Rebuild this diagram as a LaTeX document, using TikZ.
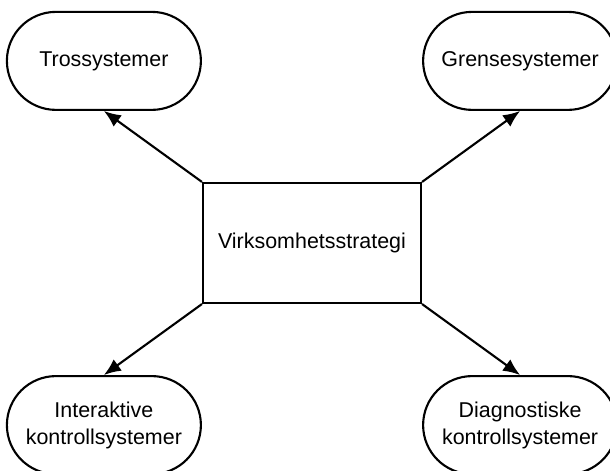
\documentclass[tikz,border=0pt]{standalone}
\usepackage{fontspec}
\setmainfont{Liberation Sans}
\usepackage{tikz}
\usetikzlibrary{positioning}
\usetikzlibrary{arrows.meta}

\begin{document}
\begin{tikzpicture}
		[system/.style={draw=black, line width=1.2pt, rounded corners=0.98cm, minimum width=3.88cm, minimum height=1.96cm, align=center},
		strategy/.style={draw=black, line width=1.2pt, minimum width=4.36cm, minimum height=2.4cm},
		every node/.style={font=\fontsize{12.2}{15.3}\selectfont},
		>={Latex[length=3.4mm, width=2.8mm]}]
		\useasboundingbox (0,0) rectangle (12.2,9.42);
		\node[strategy] (v) at (6.24,4.56) {Virksomhetsstrategi};
		\node[system, above left=1.42cm and 0cm of v] (t) {Trossystemer};
		\node[system, above right=1.42cm and 0cm of v] (g) {Grensesystemer};
		\node[system, below left=1.42cm and 0cm of v] (i) {Interaktive\\kontrollsystemer};
		\node[system, below right=1.42cm and 0cm of v] (d) {Diagnostiske\\kontrollsystemer};

		\draw[->, line width=1.2pt] (v.north west) -- (t.south);
		\draw[->, line width=1.2pt] (v.north east) -- (g.south);
		\draw[->, line width=1.2pt] (v.south west) -- (i.north);
		\draw[->, line width=1.2pt] (v.south east) -- (d.north);
	\end{tikzpicture}
\end{document}
